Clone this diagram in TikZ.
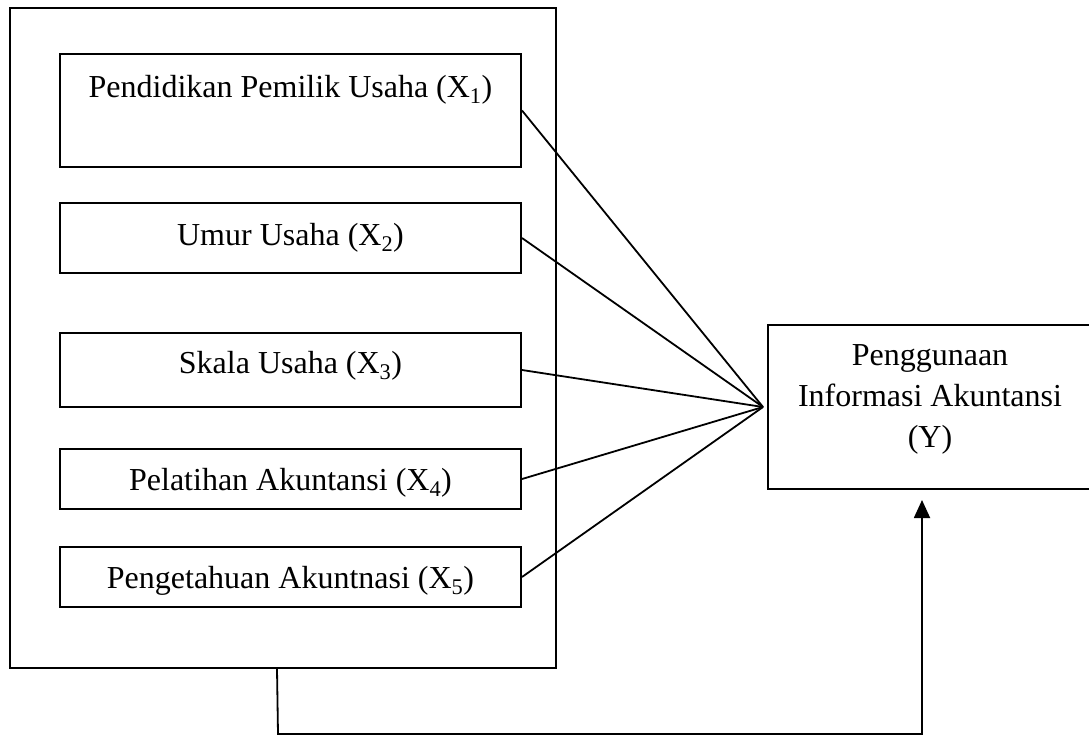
\documentclass[tikz,border=0pt]{standalone}
\usepackage{fontspec}
\setmainfont{Liberation Serif}
\usetikzlibrary{arrows.meta,positioning,calc}
\begin{document}
\begin{tikzpicture}[x=1pt,y=-1pt,
  box/.style={draw=black,line width=2pt,rectangle,inner sep=0pt},
  lbl/.style={anchor=base,inner sep=0pt,font=\fontsize{32}{41}\selectfont},
  conn/.style={draw=black,line width=1.8pt}]
\useasboundingbox (0,0) rectangle (1089,734);
\clip (-2,-2) rectangle (1089,736);
\fill[white] (0,0) rectangle (1089,734);
% outer box
\node[box,minimum width=546pt,minimum height=660pt] (outer) at (283,338) {};
% inner boxes
\node[box,minimum width=461pt,minimum height=113pt] (x1) at (290.5,110.5) {};
\node[box,minimum width=461pt,minimum height=70pt] (x2) at (290.5,238) {};
\node[box,minimum width=461pt,minimum height=74pt] (x3) at (290.5,370) {};
\node[box,minimum width=461pt,minimum height=60pt] (x4) at (290.5,479) {};
\node[box,minimum width=461pt,minimum height=60pt] (x5) at (290.5,577) {};
\node[lbl] (t1) at (290.5,97) {Pendidikan Pemilik Usaha (X\textsubscript{1})};
\node[lbl] (t2) at (290.5,245) {Umur Usaha (X\textsubscript{2})};
\node[lbl] (t3) at (290.5,373) {Skala Usaha (X\textsubscript{3})};
\node[lbl] (t4) at (290.5,490) {Pelatihan Akuntansi (X\textsubscript{4})};
\node[lbl] (t5) at (290.5,588) {Pengetahuan Akuntnasi (X\textsubscript{5})};
% dependent box
\node[box,minimum width=324pt,minimum height=164pt] (y) at (930,407) {};
\node[inner sep=0pt,align=center,font=\fontsize{32}{41}\selectfont] (yt) at (930,399) {Penggunaan\\Informasi Akuntansi\\(Y)};
% convergence point
\coordinate (conv) at (763,407);
\draw[conn] (x1.east) -- (conv);
\draw[conn] (x2.east) -- (conv);
\draw[conn] (x3.east) -- (conv);
\draw[conn] (x4.east) -- (conv);
\draw[conn] (x5.east) -- (conv);
% bottom feedback connector
\draw[conn,-{Triangle[width=16pt,length=18pt]}] ([xshift=-6pt]outer.south) -- ++(1,65) -| ([xshift=-8pt,yshift=-10pt]y.south);
\end{tikzpicture}
\end{document}
